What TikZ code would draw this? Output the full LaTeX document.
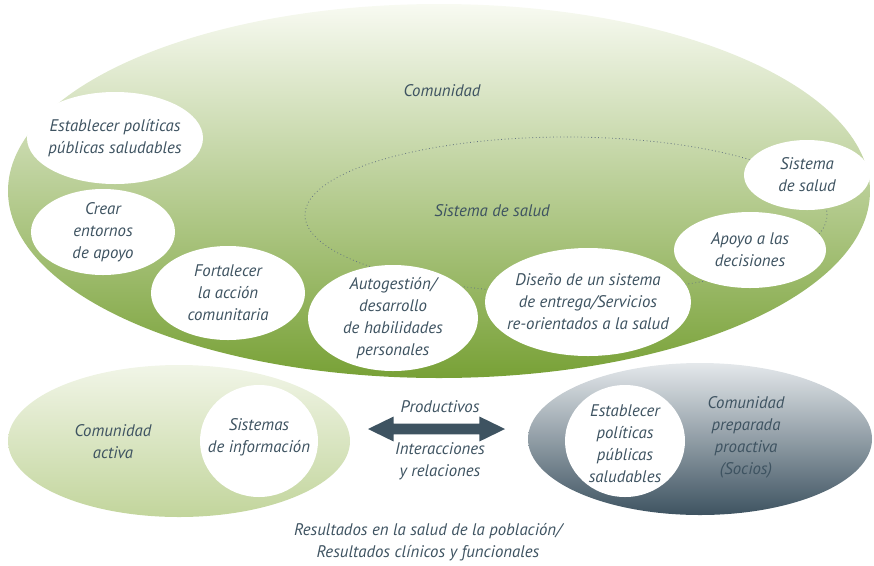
\documentclass[tikz,border=0pt]{standalone}
\usepackage{fontspec}
\setmainfont{PT Sans}
\usetikzlibrary{shapes.geometric,shapes.arrows}
\definecolor{txt}{HTML}{3E5361}
\definecolor{gtop}{HTML}{F8FAF2}
\definecolor{gmid}{HTML}{C4D6A2}
\definecolor{gbot}{HTML}{78A136}
\definecolor{ltop}{HTML}{F1F5E7}
\definecolor{lbot}{HTML}{C2D59C}
\definecolor{rtop}{HTML}{E4E8EB}
\definecolor{rbot}{HTML}{3E5361}
\tikzset{
  ell/.style 2 args={ellipse, inner sep=0pt, minimum width=#1*0.75pt, minimum height=#2*0.75pt},
  wht/.style={fill=white, draw=none},
  lbl/.style={text=txt, font=\itshape\fontsize{12.6}{16.5}\selectfont, align=center, inner sep=0pt},
}
\begin{document}
\begin{tikzpicture}[x=0.75pt,y=-0.75pt]
\useasboundingbox (0,0) rectangle (874,565);
% big community ellipse
\node[ell={862}{374}, top color=gtop, middle color=gmid, bottom color=gbot, draw=none] (com) at (439,191) {};
\node[lbl] (comt) at (442,91) {Comunidad};
% health system dotted ellipse
\node[ell={522}{156}, draw=txt!80, dotted, line width=0.6pt] (sys) at (566,215) {};
\node[lbl] (syst) at (492,211) {Sistema de salud};
% white ellipses
\node[ell={176}{92}, wht] (e1) at (115,138) {};
\node[lbl] (e1t) at (e1) {Establecer políticas\\públicas saludables};
\node[ell={144}{86}, wht] (e2) at (103,232) {};
\node[lbl] (e2t) at (e2) {Crear\\entornos\\de apoyo};
\node[ell={154}{94}, wht] (e3) at (228,293) {};
\node[lbl] (e3t) at (e3) {Fortalecer\\la acción\\comunitaria};
\node[ell={170}{106}, wht] (e4) at (393,318) {};
\node[lbl] (e4t) at (e4) {Autogestión/\\desarrollo\\de habilidades\\personales};
\node[ell={206}{108}, wht] (e5) at (588,302) {};
\node[lbl] (e5t) at (e5) {Diseño de un sistema\\de entrega/Servicios\\re-orientados a la salud};
\node[ell={152}{76}, wht] (e6) at (750,250) {};
\node[lbl] (e6t) at (e6) {Apoyo a las\\decisiones};
\node[ell={126}{70}, wht] (e7) at (807,175) {};
\node[lbl] (e7t) at (e7) {Sistema\\de salud};
% bottom left
\node[ell={342}{152}, top color=ltop, bottom color=lbot, draw=none] (act) at (179,441) {};
\node[lbl] (actt) at (113,442) {Comunidad\\activa};
\node[ell={118}{112}, wht] (inf) at (259,441) {};
\node[lbl] (inft) at (259,437) {Sistemas\\de información};
% bottom right
\node[ell={344}{152}, top color=rtop, bottom color=rbot, draw=none] (pro) at (700,439) {};
\node[ell={120}{112}, wht] (pol) at (625,441) {};
\node[lbl] (polt) at (625,444) {Establecer\\políticas\\públicas\\saludables};
\node[lbl] (prot) at (746,437) {Comunidad\\preparada\\proactiva\\(Socios)};
% arrow
\node[double arrow, fill=txt, draw=none, inner sep=0pt, inner ysep=3.9pt, minimum height=137*0.75pt, double arrow head extend=5.25pt, double arrow tip angle=52] (arr) at (436.5,429) {};
\node[lbl] (prod) at (440,407) {Productivos};
\node[lbl] (inter) at (440,461) {Interacciones\\y relaciones};
\node[lbl] (res) at (428,542) {Resultados en la salud de la población/\\Resultados clínicos y funcionales};
\end{tikzpicture}
\end{document}
